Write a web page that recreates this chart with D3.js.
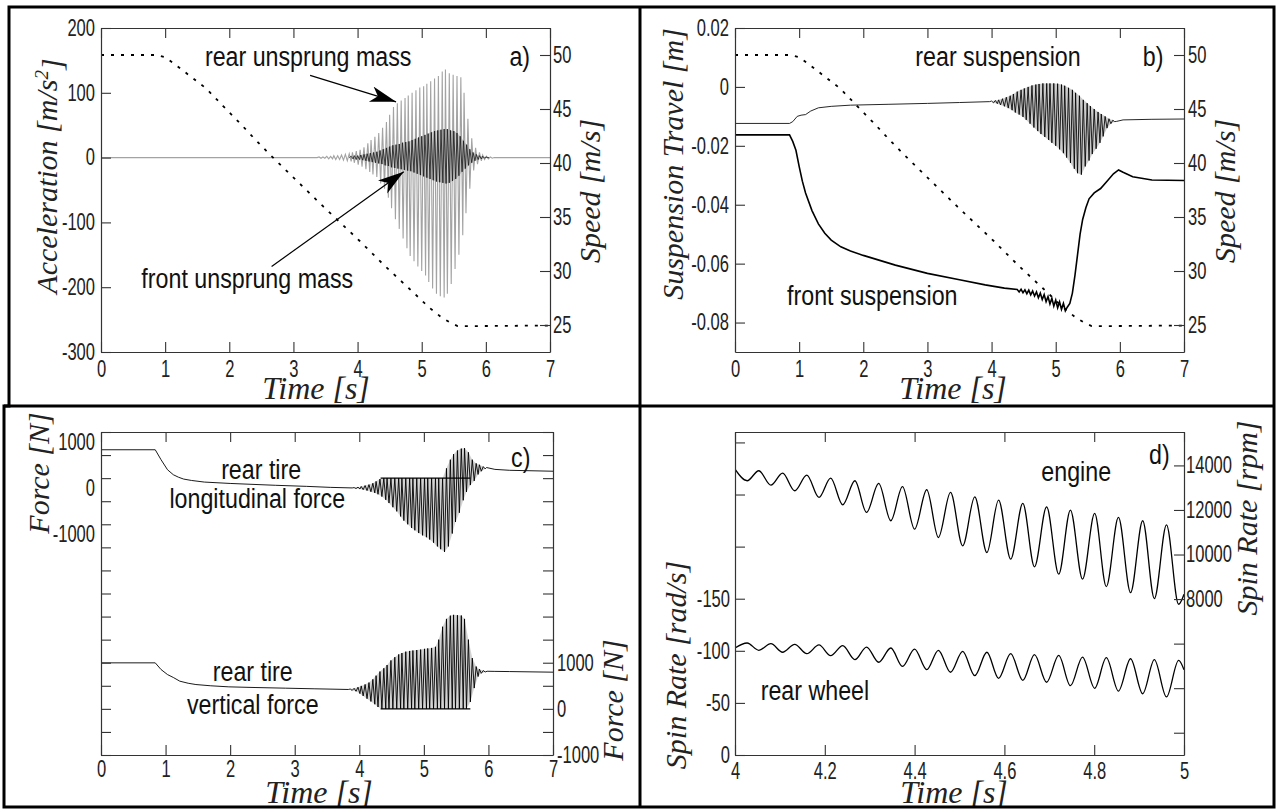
<!DOCTYPE html>
<html>
<head>
<meta charset="utf-8">
<script src="https://cdn.jsdelivr.net/npm/d3@7/dist/d3.min.js"></script>
<style>
  html, body { margin: 0; padding: 0; background: #fff; }
  svg { display: block; }
</style>
</head>
<body>
<script>
// ================= Data =================
// Vehicle speed during the braking manoeuvre [m/s] (same run in panels a and b)
const speedTime  = [0, 0.85, 1.0, 1.16, 1.4, 1.64, 1.9, 2.18, 2.4, 2.63, 3.01, 3.46, 3.71, 4.03, 4.42, 4.8, 5.12, 5.31, 5.45, 5.56, 5.8, 7];
const speedValue = [50, 50, 49.8, 49.1, 48.0, 46.9, 45.3, 43.6, 42.2, 40.8, 38.6, 36.0, 34.6, 32.8, 30.5, 28.4, 26.6, 25.7, 25.2, 24.9, 24.9, 24.95];

// (a) rear unsprung mass acceleration [m/s^2]: quiet baseline + oscillation extrema
const rearAccBaseT = [0, 3.37, 6.13, 7];
const rearAccBaseV = [0, 0, 0, 0];
const rearAccPeakT = [3.40,3.46,3.52,3.58,3.63,3.69,3.75,3.81,3.87,3.92,3.98,4.04,4.10,4.16,4.21,4.27,4.33,4.39,4.45,4.50,4.56,4.62,4.68,4.74,4.79,4.85,4.91,4.97,5.03,5.08,5.14,5.20,5.26,5.32,5.37,5.43,5.49,5.55,5.61,5.66,5.72,5.78,5.84,5.90,5.95,6.01,6.07];
const rearAccPeak  = [1,1,2,2,3,3,4,5,6,8,10,12,16,22,27,32,38,46,55,66,78,84,88,92,96,100,104,108,110,114,118,122,126,133,136,130,128,126,124,100,60,30,15,8,4,2,1];
const rearAccTroughT = [3.43,3.49,3.55,3.61,3.66,3.72,3.78,3.84,3.90,3.95,4.01,4.07,4.13,4.19,4.24,4.30,4.36,4.42,4.48,4.53,4.59,4.65,4.71,4.77,4.82,4.88,4.94,5.00,5.06,5.11,5.17,5.23,5.29,5.35,5.40,5.46,5.52,5.58,5.64,5.69,5.75,5.81,5.87,5.93,5.98,6.04,6.10];
const rearAccTrough  = [-1,-1,-2,-2,-3,-3,-4,-5,-6,-8,-11,-14,-18,-22,-26,-30,-40,-48,-62,-78,-95,-110,-125,-140,-152,-160,-168,-175,-182,-192,-202,-210,-214,-216,-210,-195,-172,-150,-120,-86,-48,-20,-10,-5,-3,-2,-1];

// (a) front unsprung mass acceleration [m/s^2]
const frontAccBaseT = [3.87, 6.05];
const frontAccBaseV = [0, 0];
const frontAccPeakT = [3.90,3.95,4.00,4.05,4.10,4.15,4.20,4.25,4.30,4.35,4.40,4.45,4.50,4.55,4.60,4.65,4.70,4.75,4.80,4.85,4.90,4.95,5.00,5.05,5.10,5.15,5.20,5.25,5.30,5.35,5.40,5.45,5.50,5.55,5.60,5.65,5.70,5.75,5.80,5.85,5.90,5.95,6.00];
const frontAccPeak  = [2,3,3,4,5,6,7,8,9,11,13,15,17,19,20,21,23,24,25,27,29,31,33,35,37,39,41,42,43,44,44,42,41,38,33,26,20,13,8,5,3,2,1];
const frontAccTroughT = [3.93,3.98,4.03,4.08,4.13,4.18,4.23,4.28,4.33,4.38,4.43,4.48,4.53,4.58,4.63,4.68,4.73,4.78,4.83,4.88,4.93,4.98,5.03,5.08,5.13,5.18,5.23,5.28,5.33,5.38,5.43,5.48,5.53,5.58,5.63,5.68,5.73,5.78,5.83,5.88,5.93,5.98,6.03];
const frontAccTrough  = [-2,-3,-3,-4,-5,-6,-7,-8,-9,-10,-12,-13,-15,-16,-17,-18,-19,-20,-21,-23,-25,-27,-29,-31,-33,-35,-37,-38,-39,-40,-39,-36,-33,-28,-22,-17,-12,-8,-5,-3,-2,-1,0];

// (b) rear suspension travel [m]
const rearTravelT = [0, 0.85, 0.9, 0.97, 1.03, 1.1, 1.18, 1.3, 1.5, 1.8, 2.4, 3.0, 3.5, 3.97, 5.95, 6.05, 6.5, 7];
const rearTravelV = [-0.0124, -0.0124, -0.0118, -0.0100, -0.0096, -0.0094, -0.0082, -0.0071, -0.0066, -0.0062, -0.0059, -0.0056, -0.0053, -0.0050, -0.0117, -0.0112, -0.0110, -0.0109];
const rearTravelPeakT = [4.00,4.06,4.11,4.17,4.23,4.29,4.34,4.40,4.46,4.51,4.57,4.63,4.69,4.74,4.80,4.86,4.91,4.97,5.03,5.09,5.14,5.20,5.26,5.31,5.37,5.43,5.49,5.54,5.60,5.66,5.71,5.77,5.83,5.89];
const rearTravelPeak  = [-0.0048,-0.0046,-0.0044,-0.0040,-0.0035,-0.0030,-0.0024,-0.0016,-0.0010,-0.0005,0.0000,0.0005,0.0008,0.0010,0.0012,0.0012,0.0012,0.0012,0.0011,0.0008,0.0004,-0.0003,-0.0010,-0.0020,-0.0030,-0.0044,-0.0055,-0.0065,-0.0075,-0.0085,-0.0092,-0.0100,-0.0108,-0.0113];
const rearTravelTroughT = [4.03,4.09,4.14,4.20,4.26,4.32,4.37,4.43,4.49,4.54,4.60,4.66,4.72,4.77,4.83,4.89,4.94,5.00,5.06,5.12,5.17,5.23,5.29,5.34,5.40,5.46,5.52,5.57,5.63,5.69,5.74,5.80,5.86,5.92];
const rearTravelTrough  = [-0.0054,-0.0057,-0.0061,-0.0066,-0.0072,-0.0079,-0.0087,-0.0094,-0.0102,-0.0112,-0.0125,-0.0138,-0.0150,-0.0160,-0.0170,-0.0180,-0.0190,-0.0200,-0.0212,-0.0225,-0.0240,-0.0258,-0.0278,-0.0293,-0.0298,-0.0270,-0.0250,-0.0228,-0.0210,-0.0190,-0.0168,-0.0140,-0.0125,-0.0118];

// (b) front suspension travel [m]
const frontTravelT = [0,0.85,0.9,0.95,1.0,1.05,1.1,1.2,1.3,1.4,1.5,1.65,1.8,2.0,2.5,3.0,3.5,3.9,4.2,4.4,4.43,4.46,4.49,4.52,4.55,4.58,4.61,4.64,4.67,4.70,4.73,4.76,4.79,4.82,4.85,4.88,4.91,4.94,4.97,5.00,5.03,5.06,5.09,5.12,5.15,5.18,5.22,5.26,5.30,5.34,5.38,5.42,5.47,5.52,5.60,5.70,5.80,5.90,5.98,6.05,6.20,6.50,7.00];
const frontTravelV = [-0.0163,-0.0163,-0.0185,-0.0215,-0.0270,-0.0320,-0.0360,-0.0420,-0.0465,-0.0497,-0.0520,-0.0543,-0.0557,-0.0572,-0.0605,-0.0633,-0.0655,-0.0672,-0.0683,-0.0688,-0.0696,-0.0687,-0.0699,-0.0689,-0.0702,-0.0690,-0.0706,-0.0693,-0.0710,-0.0696,-0.0716,-0.0700,-0.0722,-0.0705,-0.0729,-0.0712,-0.0737,-0.0718,-0.0744,-0.0724,-0.0750,-0.0730,-0.0755,-0.0735,-0.0760,-0.0748,-0.0735,-0.0700,-0.0640,-0.0570,-0.0500,-0.0450,-0.0410,-0.0380,-0.0360,-0.0345,-0.0320,-0.0295,-0.0282,-0.0290,-0.0305,-0.0316,-0.0318];

// (c) rear tire longitudinal force [N]
const longForceT = [0, 0.84, 0.93, 1.03, 1.12, 1.2, 1.28, 1.4, 1.6, 2.0, 2.23, 2.7, 3.18, 3.55, 3.89, 5.97, 6.1, 6.33, 7];
const longForceV = [615, 615, 399, 182, 74, 20, -20, -50, -85, -115, -128, -155, -178, -200, -212, 230, 190, 170, 150];
const longForcePeakT = [3.92,3.98,4.03,4.09,4.15,4.21,4.26,4.32,4.38,4.43,4.49,4.55,4.61,4.66,4.72,4.78,4.83,4.89,4.95,5.01,5.06,5.12,5.18,5.23,5.29,5.35,5.41,5.46,5.52,5.58,5.63,5.69,5.75,5.81,5.86,5.92];
const longForcePeak  = [-205,-195,-180,-160,-140,-110,-70,-20,0,0,0,0,0,0,0,0,0,0,0,0,0,0,0,0,0,212,400,520,600,640,650,560,400,320,290,250];
const longForceTroughT = [3.95,4.01,4.06,4.12,4.18,4.24,4.29,4.35,4.41,4.46,4.52,4.58,4.64,4.69,4.75,4.81,4.86,4.92,4.98,5.04,5.09,5.15,5.21,5.26,5.32,5.38,5.44,5.49,5.55,5.61,5.66,5.72,5.78,5.84,5.89,5.95];
const longForceTrough  = [-225,-235,-250,-270,-295,-320,-350,-400,-470,-540,-630,-720,-830,-920,-1000,-1080,-1130,-1190,-1240,-1280,-1330,-1400,-1480,-1540,-1600,-1480,-1200,-950,-750,-480,-300,-150,-60,80,150,200];

// (c) rear tire vertical force [N]
const vertForceT = [0, 0.84, 0.93, 1.03, 1.12, 1.22, 1.35, 1.47, 1.7, 1.98, 2.4, 2.86, 3.3, 3.83, 5.98, 6.1, 6.33, 7];
const vertForceV = [997, 997, 852, 743, 680, 600, 555, 527, 500, 477, 462, 448, 435, 420, 815, 812, 808, 795];
const vertForcePeakT = [3.86,3.92,3.98,4.03,4.09,4.15,4.21,4.26,4.32,4.38,4.43,4.49,4.55,4.61,4.66,4.72,4.78,4.83,4.89,4.95,5.01,5.06,5.12,5.18,5.23,5.29,5.35,5.41,5.46,5.52,5.58,5.63,5.69,5.75,5.81,5.86,5.92];
const vertForcePeak  = [430,445,470,498,530,570,640,720,809,880,950,1050,1120,1180,1210,1240,1255,1265,1275,1285,1300,1310,1320,1345,1500,1780,1950,2020,2037,2030,2023,1950,1500,1100,917,860,830];
const vertForceTroughT = [3.89,3.95,4.01,4.06,4.12,4.18,4.24,4.29,4.35,4.41,4.46,4.52,4.58,4.64,4.69,4.75,4.81,4.86,4.92,4.98,5.04,5.09,5.15,5.21,5.26,5.32,5.38,5.44,5.49,5.55,5.61,5.66,5.72,5.78,5.84,5.89,5.95];
const vertForceTrough  = [400,380,330,280,220,160,100,40,0,0,0,0,0,0,0,0,0,0,0,0,0,0,0,0,0,0,0,0,0,0,0,0,150,450,700,770,800];
// interval in which the rear wheel is off the ground (both forces sit at zero)
const liftOffT = [4.33, 5.72];

// (d) engine spin rate [rpm]
const engineT = [4.0, 5.0];
const engineV = [13834, 8216];
const enginePeakT = [4.053,4.106,4.160,4.213,4.267,4.320,4.373,4.427,4.480,4.534,4.587,4.641,4.694,4.747,4.801,4.854,4.908,4.961];
const enginePeak  = [13760,13654,13564,13430,13311,13191,13050,12907,12786,12592,12441,12292,12142,11991,11843,11663,11515,11333];
const engineTroughT = [4.027,4.080,4.133,4.187,4.240,4.293,4.347,4.400,4.453,4.507,4.561,4.614,4.667,4.721,4.774,4.827,4.881,4.934,4.988];
const engineTrough  = [13311,13115,12862,12562,12233,11888,11515,11138,10764,10391,10090,9790,9447,9116,8891,8562,8292,8023,7767];

// (d) rear wheel spin rate [rad/s]
const wheelT = [4.0, 5.0];
const wheelV = [-102.7, -81.9];
const wheelHighT = [4.027,4.080,4.133,4.187,4.240,4.293,4.347,4.400,4.453,4.507,4.561,4.614,4.667,4.721,4.774,4.827,4.881,4.934,4.988];
const wheelHigh  = [-107.5,-106.8,-106.2,-105.6,-104.9,-103.6,-102.7,-101.7,-100.5,-99.5,-98.6,-97.2,-96.3,-95.6,-94.0,-93.4,-92.4,-91.5,-90.9];
const wheelLowT = [4.053,4.106,4.160,4.213,4.267,4.320,4.373,4.427,4.480,4.534,4.587,4.641,4.694,4.747,4.801,4.854,4.908,4.961];
const wheelLow  = [-100.5,-98.6,-97.2,-95.3,-91.5,-89.0,-85.1,-81.9,-79.4,-76.1,-73.6,-71.7,-69.8,-66.5,-64.0,-61.4,-58.8,-55.7];

// Axis ticks and labels
const timeTicks   = [0, 1, 2, 3, 4, 5, 6, 7];
const accTicks    = [200, 100, 0, -100, -200, -300];
const speedTicks  = [50, 45, 40, 35, 30, 25];
const travelTicks = [0.02, 0, -0.02, -0.04, -0.06, -0.08];
const forceTicks  = [1000,500,0,-500,-1000,-1500,-2000,-2500,-3000,-3500,-4000,-4500,-5000,-5500,-6000];
const forceLabels = [1000, 0, -1000];
const vForceTicks = [-1000,-500,0,500,1000,1500,2000,2500,3000,3500,4000,4500,5000,5500,6000];
const vForceLabels = [1000, 0, -1000];
const zoomTimeTicks = [4, 4.2, 4.4, 4.6, 4.8, 5];
const spinTicks   = [0, -50, -100, -150, -200, -250, -300];
const spinLabels  = [0, -50, -100, -150];
const rpmTicks    = [2000, 4000, 6000, 8000, 10000, 12000, 14000];
const rpmLabels   = [8000, 10000, 12000, 14000];

// ================= Drawing =================
const WIDTH = 1277, HEIGHT = 810;
const SANS  = "'Liberation Sans', Arial, Helvetica, sans-serif";
const SERIF = "'Liberation Serif','Times New Roman',serif";
const TICK_SQUEEZE = 0.72;   // horizontal squeeze giving the condensed look of tick labels
const NOTE_SQUEEZE = 0.83;   // same for the in-plot annotations
const INK = "#222";

const svg = d3.select("body").append("svg").attr("width", WIDTH).attr("height", HEIGHT);
svg.append("rect").attr("width", WIDTH).attr("height", HEIGHT).attr("fill", "#fff");

const defs = svg.append("defs");
defs.append("marker")
  .attr("id", "head").attr("markerUnits", "userSpaceOnUse")
  .attr("markerWidth", 28).attr("markerHeight", 18)
  .attr("refX", 26).attr("refY", 8).attr("orient", "auto")
  .append("path").attr("d", "M0,0 L26,8 L0,16 L7,8 Z").attr("fill", "#000");

const boxA = {l: 101, r: 550, t: 28,  b: 352};
const boxB = {l: 735, r: 1184, t: 28, b: 352};
const boxC = {l: 101, r: 553, t: 432, b: 755};
const boxD = {l: 735, r: 1184, t: 432, b: 755};

function pairs(T, V) { return T.map((t, i) => [t, V[i]]); }
function merged(...parts) {
  return parts.flatMap(([T, V]) => pairs(T, V)).sort((a, b) => a[0] - b[0]);
}

function clipFor(id, box) {
  defs.append("clipPath").attr("id", id)
    .append("rect").attr("x", box.l).attr("y", box.t)
    .attr("width", box.r - box.l).attr("height", box.b - box.t);
  return `url(#${id})`;
}

function addAxis(axisFn, scale, tx, ty, ticks, labels, padding, opts = {}) {
  const fmt = opts.fmt || (d => String(d));
  const ax = axisFn(scale).tickValues(ticks).tickSizeInner(-10).tickSizeOuter(0)
    .tickPadding(padding).tickFormat(d => labels.includes(d) ? fmt(d) : "");
  const g = svg.append("g").attr("transform", `translate(${tx},${ty})`).call(ax);
  g.select(".domain").attr("stroke", "#333").attr("stroke-width", 1.2);
  g.selectAll(".tick line").attr("stroke", "#333").attr("stroke-width", 1.1);
  g.selectAll(".tick text")
    .attr("font-family", SANS).attr("font-size", 23).attr("fill", INK)
    .each(function () {
      const t = d3.select(this);
      const x0 = +t.attr("x") || 0;
      t.attr("x", x0 / TICK_SQUEEZE)
       .attr("transform", `translate(0,${opts.shift || 0}) scale(${TICK_SQUEEZE},1)`);
    });
  return g;
}

function vTitle(x, y, parts) {
  const t = svg.append("text").attr("transform", `translate(${x},${y}) rotate(-90)`)
    .attr("text-anchor", "middle").attr("font-family", SERIF).attr("font-style", "italic")
    .attr("font-size", 30).attr("fill", INK);
  parts.forEach(p => t.append("tspan").text(p.text).attr("dy", p.dy || null).attr("font-size", p.size || null));
}
function hTitle(x, y, text) {
  svg.append("text").attr("x", x).attr("y", y).attr("text-anchor", "middle")
    .attr("font-family", SERIF).attr("font-style", "italic").attr("font-size", 32)
    .attr("fill", INK).text(text);
}
function note(x, y, text, anchor = "middle", size = 28) {
  svg.append("g").attr("transform", `translate(${x},${y}) scale(${NOTE_SQUEEZE},1)`)
    .append("text").attr("text-anchor", anchor)
    .attr("font-family", SANS).attr("font-size", size).attr("fill", "#111").text(text);
}

// ---------- Panel a ----------
{
  const x = d3.scaleLinear().domain([0, 7]).range([boxA.l, boxA.r]);
  const y = d3.scaleLinear().domain([-300, 200]).range([boxA.b, boxA.t]);
  const ys = d3.scaleLinear().domain([22.5, 52.5]).range([boxA.b, boxA.t]);
  const clip = clipFor("clipA", boxA);
  const line = d3.line().x(d => x(d[0])).y(d => y(d[1]));

  svg.append("path").attr("clip-path", clip)
    .attr("d", line(merged([rearAccBaseT, rearAccBaseV], [rearAccPeakT, rearAccPeak], [rearAccTroughT, rearAccTrough])))
    .attr("fill", "none").attr("stroke", "#a3a3a3").attr("stroke-width", 1.1);

  const env = pairs(frontAccPeakT, frontAccPeak).concat(pairs(frontAccTroughT, frontAccTrough).reverse());
  svg.append("path").attr("clip-path", clip).attr("d", line(env) + "Z")
    .attr("fill", "#8c8c8c").attr("fill-opacity", 0.4).attr("stroke", "none");
  svg.append("path").attr("clip-path", clip)
    .attr("d", line(merged([frontAccBaseT, frontAccBaseV], [frontAccPeakT, frontAccPeak], [frontAccTroughT, frontAccTrough])))
    .attr("fill", "none").attr("stroke", "#1a1a1a").attr("stroke-width", 0.8);

  svg.append("path").attr("clip-path", clip)
    .attr("d", d3.line().x(d => x(d[0])).y(d => ys(d[1]))(pairs(speedTime, speedValue)))
    .attr("fill", "none").attr("stroke", "#000").attr("stroke-width", 1.8).attr("stroke-dasharray", "3,7");

  addAxis(d3.axisTop, x, 0, boxA.t, timeTicks, [], 0);
  addAxis(d3.axisBottom, x, 0, boxA.b, timeTicks, timeTicks, 9);
  addAxis(d3.axisLeft, y, boxA.l, 0, accTicks, accTicks, 6);
  addAxis(d3.axisRight, ys, boxA.r, 0, speedTicks, speedTicks, 3);

  vTitle(57, 176, [{text: "Acceleration [m/s"}, {text: "2", dy: "-0.45em", size: 19}, {text: "]", dy: "0.45em"}]);
  vTitle(600, 191, [{text: "Speed [m/s]"}]);
  hTitle(316, 399, "Time [s]");

  note(x(3.23), y(141), "rear unsprung mass");
  note(x(2.28), y(-201), "front unsprung mass");
  note(x(6.69), y(141), "a)", "end");

  svg.append("line").attr("x1", x(3.26)).attr("y1", y(127)).attr("x2", x(4.6)).attr("y2", y(86))
    .attr("stroke", "#000").attr("stroke-width", 1.2).attr("marker-end", "url(#head)");
  svg.append("line").attr("x1", x(2.66)).attr("y1", y(-168)).attr("x2", x(4.72)).attr("y2", y(-22))
    .attr("stroke", "#000").attr("stroke-width", 1.2).attr("marker-end", "url(#head)");
}

// ---------- Panel b ----------
{
  const x = d3.scaleLinear().domain([0, 7]).range([boxB.l, boxB.r]);
  const y = d3.scaleLinear().domain([-0.09, 0.02]).range([boxB.b, boxB.t]);
  const ys = d3.scaleLinear().domain([22.5, 52.5]).range([boxB.b, boxB.t]);
  const clip = clipFor("clipB", boxB);
  const line = d3.line().x(d => x(d[0])).y(d => y(d[1]));

  const env = pairs(rearTravelPeakT, rearTravelPeak).concat(pairs(rearTravelTroughT, rearTravelTrough).reverse());
  svg.append("path").attr("clip-path", clip).attr("d", line(env) + "Z")
    .attr("fill", "#9a9a9a").attr("fill-opacity", 0.5);
  svg.append("path").attr("clip-path", clip)
    .attr("d", line(merged([rearTravelT, rearTravelV], [rearTravelPeakT, rearTravelPeak], [rearTravelTroughT, rearTravelTrough])))
    .attr("fill", "none").attr("stroke", "#000").attr("stroke-width", 0.85);
  svg.append("path").attr("clip-path", clip)
    .attr("d", line(pairs(frontTravelT, frontTravelV)))
    .attr("fill", "none").attr("stroke", "#000").attr("stroke-width", 1.6);
  svg.append("path").attr("clip-path", clip)
    .attr("d", d3.line().x(d => x(d[0])).y(d => ys(d[1]))(pairs(speedTime, speedValue)))
    .attr("fill", "none").attr("stroke", "#000").attr("stroke-width", 1.8).attr("stroke-dasharray", "3,7");

  addAxis(d3.axisTop, x, 0, boxB.t, timeTicks, [], 0);
  addAxis(d3.axisBottom, x, 0, boxB.b, timeTicks, timeTicks, 9);
  addAxis(d3.axisLeft, y, boxB.l, 0, travelTicks, travelTicks, 6);
  addAxis(d3.axisRight, ys, boxB.r, 0, speedTicks, speedTicks, 4);

  vTitle(683, 164, [{text: "Suspension Travel [m]"}]);
  vTitle(1235, 191, [{text: "Speed [m/s]"}]);
  hTitle(953, 399, "Time [s]");

  note(x(4.1), y(0.0071), "rear suspension");
  note(x(2.14), y(-0.0741), "front suspension");
  note(x(6.68), y(0.0071), "b)", "end");
}

// ---------- Panel c ----------
{
  const x = d3.scaleLinear().domain([0, 7]).range([boxC.l, boxC.r]);
  const yU = d3.scaleLinear().domain([-6000, 1000]).range([boxC.b, boxC.t]);
  const yL = d3.scaleLinear().domain([-1000, 6000]).range([boxC.b, boxC.t]);
  const clip = clipFor("clipC", boxC);
  const lineU = d3.line().x(d => x(d[0])).y(d => yU(d[1]));
  const lineL = d3.line().x(d => x(d[0])).y(d => yL(d[1]));

  const envU = pairs(longForcePeakT, longForcePeak).concat(pairs(longForceTroughT, longForceTrough).reverse());
  svg.append("path").attr("clip-path", clip).attr("d", lineU(envU) + "Z").attr("fill", "#a8a8a8").attr("fill-opacity", 0.5);
  const envL = pairs(vertForcePeakT, vertForcePeak).concat(pairs(vertForceTroughT, vertForceTrough).reverse());
  svg.append("path").attr("clip-path", clip).attr("d", lineL(envL) + "Z").attr("fill", "#a8a8a8").attr("fill-opacity", 0.5);

  svg.append("path").attr("clip-path", clip)
    .attr("d", lineU(merged([longForceT, longForceV], [longForcePeakT, longForcePeak], [longForceTroughT, longForceTrough])))
    .attr("fill", "none").attr("stroke", "#000").attr("stroke-width", 0.9);
  svg.append("path").attr("clip-path", clip)
    .attr("d", lineU(liftOffT.map(t => [t, 0])))
    .attr("fill", "none").attr("stroke", "#000").attr("stroke-width", 1.3);
  svg.append("path").attr("clip-path", clip)
    .attr("d", lineL(merged([vertForceT, vertForceV], [vertForcePeakT, vertForcePeak], [vertForceTroughT, vertForceTrough])))
    .attr("fill", "none").attr("stroke", "#000").attr("stroke-width", 0.9);
  svg.append("path").attr("clip-path", clip)
    .attr("d", lineL(liftOffT.map(t => [t, 0])))
    .attr("fill", "none").attr("stroke", "#000").attr("stroke-width", 1.3);

  addAxis(d3.axisTop, x, 0, boxC.t, timeTicks, [], 0);
  addAxis(d3.axisBottom, x, 0, boxC.b, timeTicks, timeTicks, 6);
  addAxis(d3.axisLeft, yU, boxC.l, 0, forceTicks, forceLabels, 6, {shift: 10});
  addAxis(d3.axisRight, yL, boxC.r, 0, vForceTicks, vForceLabels, 4);

  vTitle(49, 473, [{text: "Force [N]"}]);
  vTitle(623, 700, [{text: "Force [N]"}]);
  hTitle(319, 803, "Time [s]");

  note(x(2.48), yU(-20), "rear tire");
  note(x(2.42), yU(-648), "longitudinal force");
  note(x(2.35), yL(607), "rear tire");
  note(x(2.35), yL(-108), "vertical force");
  note(x(6.65), yU(240), "c)", "end");
}

// ---------- Panel d ----------
{
  const x = d3.scaleLinear().domain([4, 5]).range([boxD.l, boxD.r]);
  const yRad = d3.scaleLinear().domain([0, -310]).range([boxD.b, boxD.t]);
  const yRpm = d3.scaleLinear().domain([1000, 15500]).range([boxD.b, boxD.t]);
  const clip = clipFor("clipD", boxD);

  svg.append("path").attr("clip-path", clip)
    .attr("d", d3.line().curve(d3.curveMonotoneX).x(d => x(d[0])).y(d => yRpm(d[1]))(
      merged([engineT, engineV], [enginePeakT, enginePeak], [engineTroughT, engineTrough])))
    .attr("fill", "none").attr("stroke", "#000").attr("stroke-width", 1.3);
  svg.append("path").attr("clip-path", clip)
    .attr("d", d3.line().curve(d3.curveMonotoneX).x(d => x(d[0])).y(d => yRad(d[1]))(
      merged([wheelT, wheelV], [wheelHighT, wheelHigh], [wheelLowT, wheelLow])))
    .attr("fill", "none").attr("stroke", "#000").attr("stroke-width", 1.3);

  addAxis(d3.axisTop, x, 0, boxD.t, zoomTimeTicks, [], 0);
  addAxis(d3.axisBottom, x, 0, boxD.b, zoomTimeTicks, zoomTimeTicks, 8);
  addAxis(d3.axisLeft, yRad, boxD.l, 0, spinTicks, spinLabels, 5);
  addAxis(d3.axisRight, yRpm, boxD.r, 0, rpmTicks, rpmLabels, 2);

  vTitle(686, 665, [{text: "Spin Rate [rad/s]"}]);
  vTitle(1257, 518, [{text: "Spin Rate [rpm]"}]);
  hTitle(954, 803, "Time [s]");

  note(x(4.76), yRpm(13281), "engine");
  note(x(4.178), yRad(-52.8), "rear wheel");
  note(x(4.968), yRpm(14058), "d)", "end");
}

// ---------- Figure frame ----------
const frame = svg.append("g").attr("stroke", "#000").attr("stroke-width", 3).attr("fill", "none");
frame.append("path").attr("d", "M9,7 H1274 V807 H4 V406 H9 Z");
frame.append("line").attr("x1", 640).attr("y1", 7).attr("x2", 640).attr("y2", 807);
frame.append("line").attr("x1", 4).attr("y1", 406).attr("x2", 1274).attr("y2", 406);
</script>
</body>
</html>
